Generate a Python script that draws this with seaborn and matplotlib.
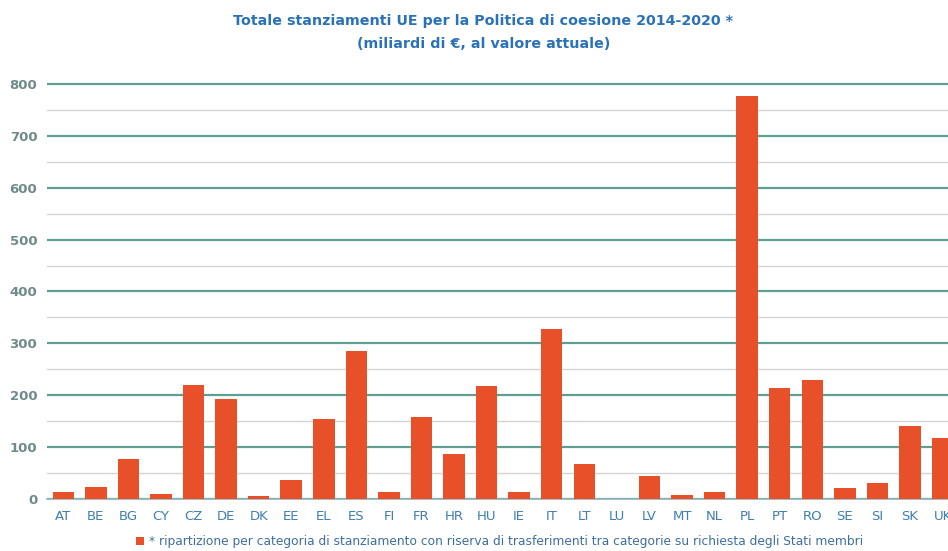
import matplotlib
matplotlib.use("Agg")
import matplotlib.pyplot as plt
import seaborn as sns
import pandas as pd
from matplotlib.ticker import MultipleLocator

countries = ["AT", "BE", "BG", "CY", "CZ", "DE", "DK", "EE", "EL", "ES", "FI", "FR", "HR", "HU",
             "IE", "IT", "LT", "LU", "LV", "MT", "NL", "PL", "PT", "RO", "SE", "SI", "SK", "UK"]
values = [13, 23, 78, 9, 220, 193, 5, 36, 154, 285, 14, 158, 87, 218,
          13, 328, 67, 0.6, 44, 8, 13, 777, 214, 230, 21, 31, 140, 117]
yticks = [0, 100, 200, 300, 400, 500, 600, 700, 800]

title = "Totale stanziamenti UE per la Politica di coesione 2014-2020 *\n(miliardi di €, al valore attuale)"
legend_label = "* ripartizione per categoria di stanziamento con riserva di trasferimenti tra categorie su richiesta degli Stati membri"

df = pd.DataFrame({"country": countries, "value": values})

sns.set_theme(style="white")
plt.rcParams["font.family"] = ["DejaVu Sans"]

fig = plt.figure(figsize=(9.48, 5.51), dpi=100)
ax = fig.add_axes([47 / 948, 52 / 551, 911.8 / 948, 417.6 / 551])

sns.barplot(data=df, x="country", y="value", color="#e8502a", saturation=1,
            width=0.66, ax=ax, label=legend_label, zorder=3, linewidth=0, legend=False)
if ax.get_legend() is not None:
    ax.get_legend().remove()

ax.set_xlim(-0.5, len(countries) - 0.5)
ax.set_ylim(0, 805)
ax.set_yticks(yticks)
ax.yaxis.set_minor_locator(MultipleLocator(50))
ax.grid(axis="y", which="major", color="#5f9e92", linewidth=1.6, zorder=0)
ax.grid(axis="y", which="minor", color="#d4d4d4", linewidth=1.0, zorder=0)
ax.set_axisbelow(True)
for s in ["top", "right", "left"]:
    ax.spines[s].set_visible(False)
ax.spines["bottom"].set_color("#8fb3b8")
ax.spines["bottom"].set_linewidth(1.2)
ax.set_xlabel("")
ax.set_ylabel("")
ax.tick_params(axis="y", which="both", length=0, pad=7, labelsize=9.5, labelcolor="#6f8a8a")
ax.tick_params(axis="x", length=0, pad=8, labelsize=9.5, labelcolor="#3f7fb0")
for lbl in ax.get_yticklabels():
    lbl.set_fontweight("bold")

fig.text(0.51, 0.908, title, ha="center", va="bottom", fontsize=10.3, fontweight="bold",
         color="#2a72b8", linespacing=1.75)

handles, labels = ax.get_legend_handles_labels()
leg = fig.legend(handles[:1], [legend_label], loc="lower center", bbox_to_anchor=(0.527, -0.015),
                 frameon=False, fontsize=8.8, handlelength=0.7, handleheight=0.7, handletextpad=0.4)
for t in leg.get_texts():
    t.set_color("#3d6f9e")

fig.savefig("out.png", dpi=100)
